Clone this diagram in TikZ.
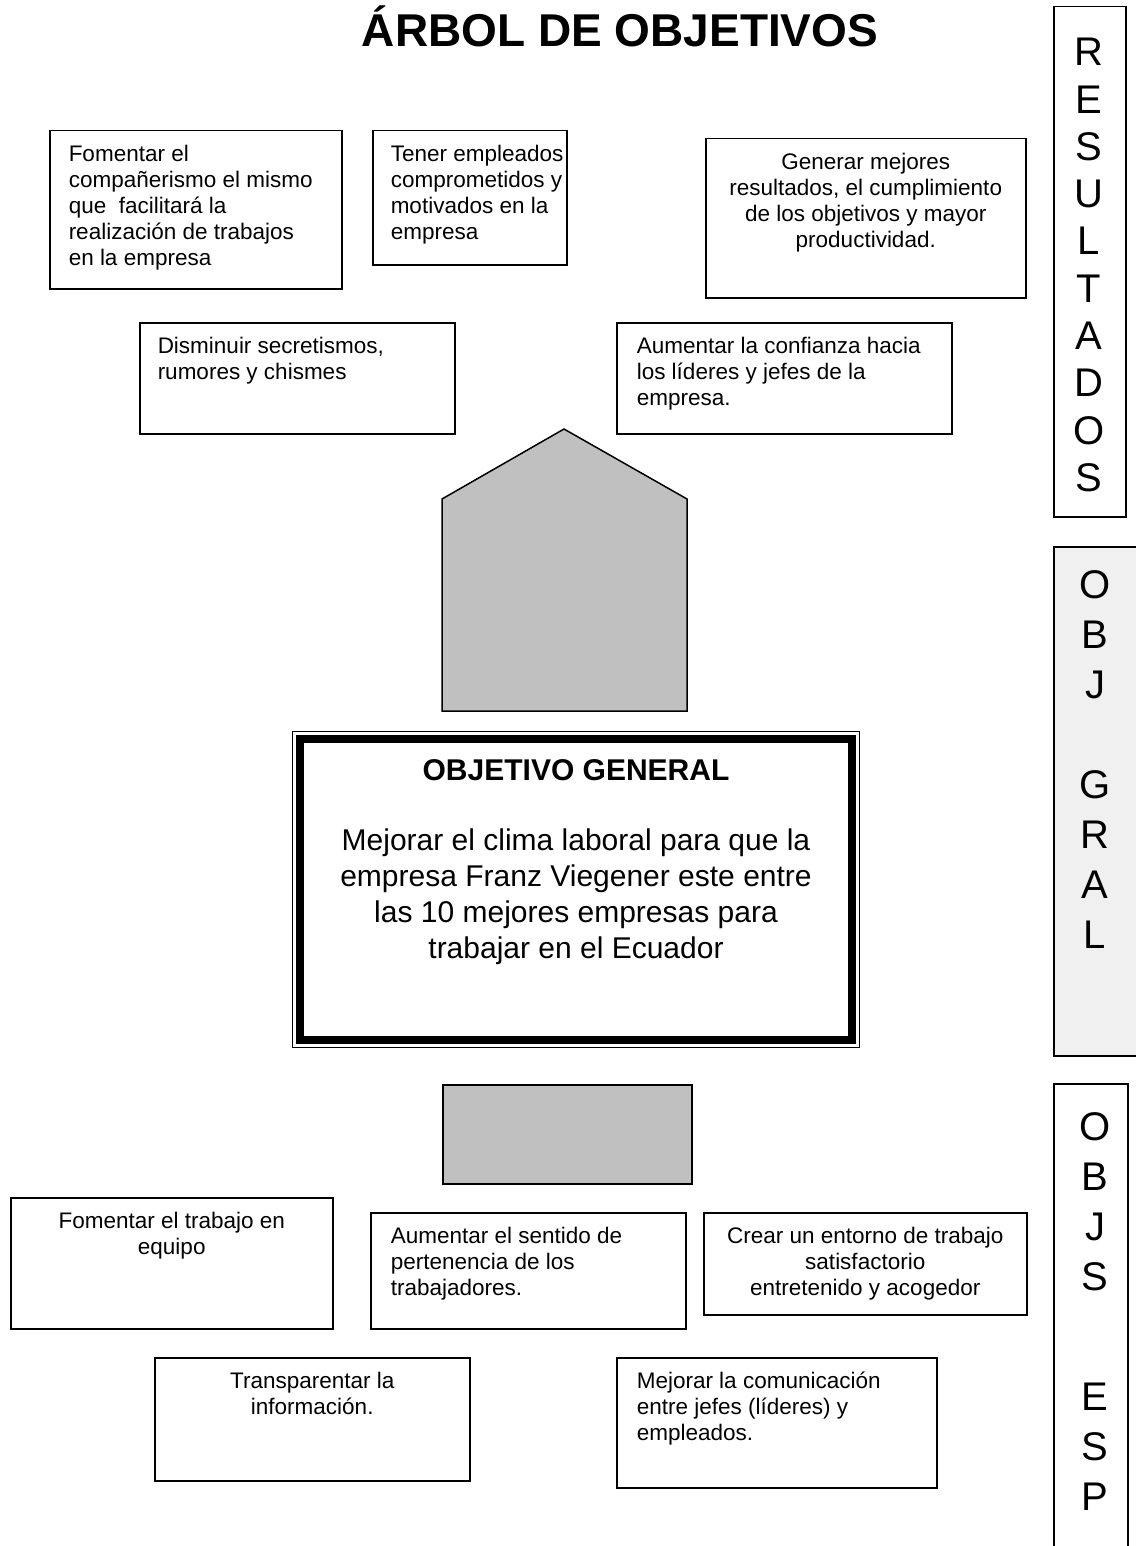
\documentclass[tikz,border=0pt]{standalone}
\usepackage{fontspec}
\setmainfont{Liberation Sans}

% texto de cada recuadro: ancho, alto, alineacion, texto
\newcommand{\caja}[4]{\parbox[t][#2pt][t]{#1pt}{#3\strut #4}}
\hfuzz=30pt

\definecolor{grisbloque}{HTML}{C0C0C0}
\definecolor{grisclaro}{HTML}{F0F0F0}

\begin{document}
\begin{tikzpicture}[x=1pt, y=-1pt]
\useasboundingbox (0,0) rectangle (1135,1546);

\node[anchor=base, font=\fontsize{46}{52}\selectfont\bfseries] (titulo) at (620,47) {ÁRBOL DE OBJETIVOS};

% resultados
\begin{scope}[every node/.style={draw, line width=1.5pt, anchor=north west, inner xsep=19pt, inner ysep=13pt, font=\fontsize{22.5}{26}\selectfont}]
    \node (compa) at (49,130) {\caja{254}{132}{\raggedright}{Fomentar el\\compañerismo el mismo\\que~ facilitará la\\realización de trabajos\\en la empresa}};
    \node[inner xsep=0pt] (tener) at (372,130) {\hspace*{18pt}\caja{176}{108}{\raggedright}{Tener empleados\\comprometidos y\\motivados en la\\empresa}};
    \node (generar) at (705,138) {\caja{282}{133}{\centering}{Generar mejores\\resultados, el cumplimiento\\de los objetivos y mayor\\productividad.}};
    \node[inner xsep=18pt] (rumores) at (139,322) {\caja{279}{85}{\raggedright}{Disminuir secretismos,\\rumores y chismes}};
    \node[inner xsep=20pt] (confianza) at (616,322) {\caja{295}{85}{\raggedright}{Aumentar la confianza hacia\\los líderes y jefes de la\\empresa.}};
\end{scope}

% objetivos especificos
\begin{scope}[every node/.style={draw, line width=1.5pt, anchor=north west, inner xsep=19pt, inner ysep=13pt, font=\fontsize{22.5}{26}\selectfont}]
    \node (equipo) at (10,1197) {\caja{284}{105}{\centering}{Fomentar el trabajo en\\equipo}};
    \node[inner xsep=20pt] (pertenencia) at (370,1212) {\caja{275}{90}{\raggedright}{Aumentar el sentido de\\pertenencia de los\\trabajadores.}};
    \node (entorno) at (703,1212) {\caja{285}{76}{\centering}{Crear un entorno de trabajo\\satisfactorio\\entretenido y acogedor}};
    \node (transparentar) at (154,1357) {\caja{277}{97}{\centering}{Transparentar la\\información.}};
    \node[inner xsep=20pt] (comunicacion) at (616,1357) {\caja{280}{104}{\raggedright}{Mejorar la comunicación\\entre jefes (líderes) y\\empleados.}};
\end{scope}

% flecha y base
\draw[line width=1.5pt, fill=grisbloque] (442,711) -- (442,499) -- (564,429) -- (687,499) -- (687,711) -- cycle;
\node[draw, line width=2pt, fill=grisbloque, anchor=north west, minimum width=249, minimum height=99, inner sep=0pt] (base) at (442,1084) {};

% objetivo general
\node[draw, line width=1pt, anchor=north west, inner xsep=20pt, inner ysep=24pt, font=\fontsize{30}{36}\selectfont] (general) at (292,731) {\caja{527}{268}{\centering}{\textbf{OBJETIVO GENERAL}\\[34pt]Mejorar el clima laboral para que la\\empresa Franz Viegener este entre\\las 10 mejores empresas para\\trabajar en el Ecuador}};
\draw[line width=8pt] ([shift={(8,8)}]general.north west) rectangle ([shift={(-8,-8)}]general.south east);

% columna lateral
\begin{scope}[every node/.style={draw, line width=1.5pt, anchor=north west, inner sep=0pt}]
    \node[minimum width=72, minimum height=510] (marcoR) at (1053,6) {};
    \node[fill=grisclaro, minimum width=100, minimum height=509] (marcoG) at (1053,546) {};
    \node[minimum width=74, minimum height=500] (marcoE) at (1053,1083) {};
\end{scope}
\begin{scope}[every node/.style={align=center, inner sep=0pt, font=\fontsize{40}{47.3}\selectfont}]
    \node (resultados) at (1089,265) {R\\E\\S\\U\\L\\T\\A\\D\\O\\S};
    \node[font=\fontsize{40}{50}\selectfont] (gral) at (1095,760) {O\\B\\J\\[50pt]G\\R\\A\\L};
    \node[font=\fontsize{40}{50}\selectfont] (esp) at (1095,1312) {O\\B\\J\\S\\[70pt]E\\S\\P};
\end{scope}

\end{tikzpicture}
\end{document}
